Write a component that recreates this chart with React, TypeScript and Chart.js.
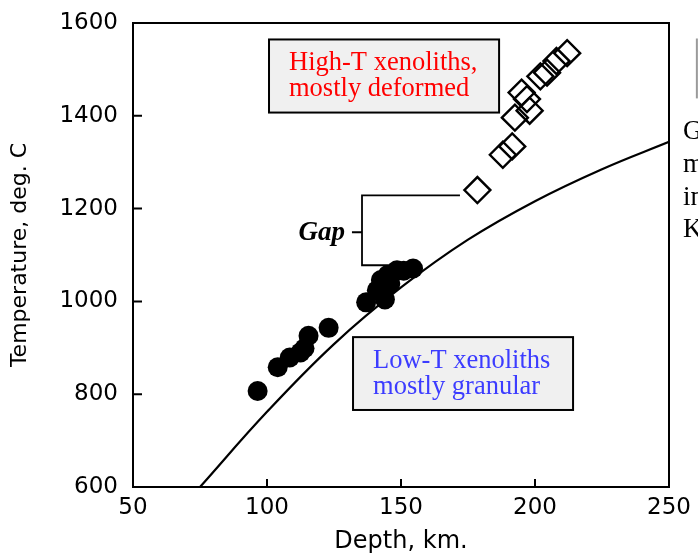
import React, { useEffect, useRef } from "react";
import { Chart, registerables } from "chart.js";

Chart.register(...registerables);

// ---- data ----
const depthTicks = [50, 100, 150, 200, 250];
const tempTicks = [600, 800, 1000, 1200, 1400, 1600];

// Low-T xenoliths (filled circles)
const lowTDepth = [96.5, 104, 108.5, 112.5, 114, 115.5, 123, 137, 144, 141, 142.5, 146, 145, 148.5, 151, 154.5];
const lowTTemp = [807, 858, 879, 890, 899, 926, 943, 998, 1004, 1024, 1046, 1038, 1057, 1067, 1066, 1071];

// High-T xenoliths (open diamonds)
const highTDepth = [178.5, 188, 191.5, 192.5, 198, 195, 197, 202, 204.5, 208, 212];
const highTTemp = [1240, 1316, 1334, 1396, 1411, 1450, 1436, 1485, 1493, 1518, 1535];

// Geotherm curve
const geoDepth = [75, 100, 125, 150, 175, 200, 225, 250];
const geoTemp = [600, 762, 908, 1030, 1133, 1216, 1285, 1344];

// ---- annotation layout (data units) ----
const HIGH_BOX = { x0: 100.75, x1: 186.6, y0: 1564.5, y1: 1407 };
const LOW_BOX = { x0: 132.1, x1: 214.2, y0: 923, y1: 766 };
const HIGH_LINES = ["High-T xenoliths,", "mostly deformed"];
const LOW_LINES = ["Low-T xenoliths", "mostly granular"];
const GAP = { text: "Gap", x: 129.1, y: 1131.8, bx: 135.45, tickX: 131.7, top: 1228.6, bottom: 1077.9, mid: 1149, topEnd: 172, bottomEnd: 146 };
const SIDE_TEXT = ["G", "m", "in", "K"];
const SIDE_TEXT_X = 255.2;
const SIDE_TEXT_Y = [1351, 1278, 1207, 1138];
const SIDE_BAR = { x: 260.4, y0: 1566.6, y1: 1437.5 };

const SANS = "'DejaVu Sans', sans-serif";
const SERIF = "'Liberation Serif', 'Times New Roman', serif";

const overlay = {
  id: "overlay",
  afterDatasetsDraw(chart: any) {
    const { ctx, chartArea: ca, scales } = chart;
    const xs = scales.x;
    const ys = scales.y;
    const px = (v: number) => xs.getPixelForValue(v);
    const py = (v: number) => ys.getPixelForValue(v);
    ctx.save();

    // plot frame
    ctx.strokeStyle = "#000";
    ctx.lineWidth = 2;
    ctx.strokeRect(ca.left, ca.top, ca.right - ca.left, ca.bottom - ca.top);

    // inward tick marks
    ctx.lineWidth = 2;
    ctx.beginPath();
    depthTicks.forEach((t) => {
      const x = px(t);
      ctx.moveTo(x, ca.bottom);
      ctx.lineTo(x, ca.bottom - 8);
    });
    tempTicks.forEach((t) => {
      const y = py(t);
      ctx.moveTo(ca.left, y);
      ctx.lineTo(ca.left + 9, y);
    });
    ctx.stroke();

    // text boxes
    const drawBox = (b: any, lines: string[], color: string) => {
      const x0 = px(b.x0), x1 = px(b.x1), y0 = py(b.y0), y1 = py(b.y1);
      ctx.fillStyle = "#f0f0f0";
      ctx.fillRect(x0, y0, x1 - x0, y1 - y0);
      ctx.strokeStyle = "#000";
      ctx.lineWidth = 2;
      ctx.strokeRect(x0, y0, x1 - x0, y1 - y0);
      ctx.fillStyle = color;
      ctx.font = `26.5px ${SERIF}`;
      ctx.textAlign = "left";
      ctx.textBaseline = "alphabetic";
      lines.forEach((l, i) => ctx.fillText(l, x0 + 20, y0 + 31 + i * 25.5));
    };
    drawBox(HIGH_BOX, HIGH_LINES, "#ff0000");
    drawBox(LOW_BOX, LOW_LINES, "#3c3cff");

    // Gap bracket
    ctx.strokeStyle = "#000";
    ctx.lineWidth = 1.8;
    ctx.beginPath();
    ctx.moveTo(px(GAP.topEnd), py(GAP.top));
    ctx.lineTo(px(GAP.bx), py(GAP.top));
    ctx.lineTo(px(GAP.bx), py(GAP.bottom));
    ctx.lineTo(px(GAP.bottomEnd), py(GAP.bottom));
    ctx.moveTo(px(GAP.tickX), py(GAP.mid));
    ctx.lineTo(px(GAP.bx), py(GAP.mid));
    ctx.stroke();
    ctx.fillStyle = "#000";
    ctx.font = `italic bold 27px ${SERIF}`;
    ctx.textAlign = "right";
    ctx.textBaseline = "alphabetic";
    ctx.fillText(GAP.text, px(GAP.x), py(GAP.y));

    // cropped page text at the right edge
    ctx.font = `27px ${SERIF}`;
    ctx.textAlign = "left";
    SIDE_TEXT.forEach((t, i) => ctx.fillText(t, px(SIDE_TEXT_X), py(SIDE_TEXT_Y[i])));
    ctx.strokeStyle = "#9a9a9a";
    ctx.lineWidth = 2;
    ctx.beginPath();
    ctx.moveTo(px(SIDE_BAR.x), py(SIDE_BAR.y0));
    ctx.lineTo(px(SIDE_BAR.x), py(SIDE_BAR.y1));
    ctx.stroke();

    ctx.restore();
  },
};

export default function App() {
  const ref = useRef<HTMLCanvasElement | null>(null);

  useEffect(() => {
    if (!ref.current) return;
    const toPts = (xs: number[], ys: number[]) => xs.map((x, i) => ({ x, y: ys[i] }));
    const chart = new Chart(ref.current, {
      type: "scatter",
      data: {
        datasets: [
          {
            type: "line",
            label: "Geotherm",
            data: toPts(geoDepth, geoTemp),
            borderColor: "#000",
            borderWidth: 2.2,
            pointRadius: 0,
            tension: 0.4,
            fill: false,
            order: 3,
          } as any,
          {
            label: "Low-T xenoliths",
            data: toPts(lowTDepth, lowTTemp),
            pointStyle: "circle",
            pointRadius: 10,
            backgroundColor: "#000",
            borderColor: "#000",
            borderWidth: 0,
            order: 2,
          },
          {
            label: "High-T xenoliths",
            data: toPts(highTDepth, highTTemp),
            pointStyle: "rectRot",
            pointRadius: 13,
            backgroundColor: "rgba(0,0,0,0)",
            borderColor: "#000",
            borderWidth: 2.4,
            order: 1,
          },
        ],
      },
      options: {
        responsive: false,
        animation: false,
        events: [],
        layout: { padding: { top: 23, right: 29, left: 0, bottom: 0 } },
        plugins: { legend: { display: false }, tooltip: { enabled: false } },
        scales: {
          x: {
            type: "linear",
            min: 50,
            max: 250,
            afterBuildTicks: (s: any) => {
              s.ticks = depthTicks.map((v) => ({ value: v }));
            },
            afterFit: (s: any) => {
              s.height = 71;
              s.paddingLeft = 0;
              s.paddingRight = 0;
            },
            grid: { display: false, drawTicks: false },
            border: { display: false },
            ticks: {
              color: "#000",
              font: { family: SANS, size: 23 },
              padding: 7,
              maxRotation: 0,
              autoSkip: false,
              callback: (v: any) => String(v),
            },
            title: {
              display: true,
              text: "Depth, km.",
              color: "#000",
              font: { family: SANS, size: 24 },
              padding: { top: 0, bottom: 2 },
            },
          },
          y: {
            type: "linear",
            min: 600,
            max: 1600,
            afterBuildTicks: (s: any) => {
              s.ticks = tempTicks.map((v) => ({ value: v }));
            },
            afterFit: (s: any) => {
              s.width = 133;
              s.paddingTop = 0;
              s.paddingBottom = 0;
            },
            grid: { display: false, drawTicks: false },
            border: { display: false },
            ticks: {
              color: "#000",
              font: { family: SANS, size: 23 },
              padding: 15,
              autoSkip: false,
              callback: (v: any) => String(v),
            },
            title: {
              display: true,
              text: "Temperature, deg. C",
              color: "#000",
              font: { family: SANS, size: 22 },
              padding: { top: 7, bottom: 0 },
            },
          },
        },
      },
      plugins: [overlay],
    });
    return () => chart.destroy();
  }, []);

  return (
    <div style={{ position: "fixed", left: 0, top: 0, width: 698, height: 558, background: "#fff" }}>
      <canvas ref={ref} width={698} height={558} style={{ display: "block" }} />
    </div>
  );
}
